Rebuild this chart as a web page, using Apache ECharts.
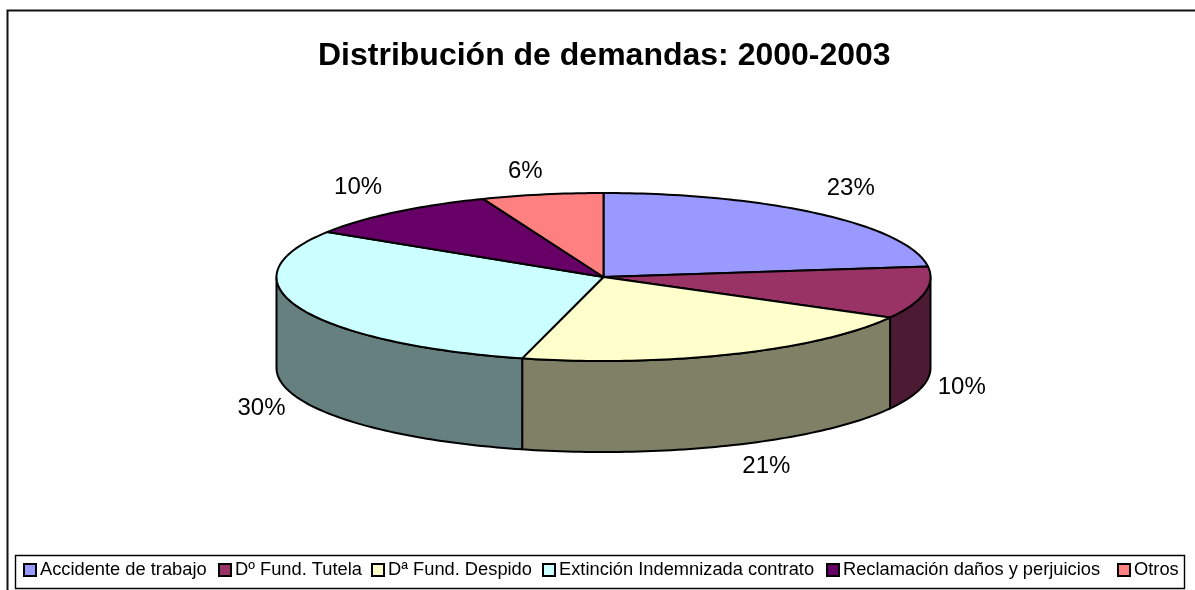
<!DOCTYPE html>
<html><head><meta charset="utf-8">
<style>html,body{margin:0;padding:0;background:#fff}#c{width:1195px;height:590px}</style>
<script src="https://cdn.jsdelivr.net/npm/echarts@6/dist/echarts.min.js"></script>
</head><body><div id="c"></div>
<script>
const categories = ['Accidente de trabajo','Dº Fund. Tutela','Dª Fund. Despido','Extinción Indemnizada contrato','Reclamación daños y perjuicios','Otros'];
const values = [23,10,21,30,10,6];
const topColors = ['#9999FF','#993366','#FFFFCC','#CCFFFF','#660066','#FF8080'];
const wallColors = ['#4D4D80','#4D1A33','#808066','#668080','#330033','#804040'];
const labelOffsets = [[31,-26],[37,4],[33,21],[-38,9],[-37,-25],[-17,-23]];
const legendLefts = [23,218,371,542,826,1117];
const titleText = 'Distribución de demandas: 2000-2003';

const CX=603.5, CY=277, RX=327, RY=84, DEPTH=91;
const total = values.reduce((a,b)=>a+b,0);
const pt=(t,dy)=>[CX+RX*Math.sin(t), CY-RY*Math.cos(t)+(dy||0)];
const arc=(a,b,dy)=>{const n=Math.max(2,Math.ceil(Math.abs(b-a)/0.02));const o=[];for(let i=0;i<=n;i++)o.push(pt(a+(b-a)*i/n,dy));return o;};
const lineStyle={stroke:'#000',lineWidth:2,lineJoin:'round'};

function renderSlice(idx){
  return function(params,api){
    const before=api.value(0), val=api.value(1);
    const a=before/total*2*Math.PI, b=(before+val)/total*2*Math.PI;
    const kids=[];
    const wa=Math.max(a,Math.PI/2), wb=Math.min(b,3*Math.PI/2);
    if(wb>wa){
      const front=arc(wa,wb,0), back=arc(wb,wa,DEPTH);
      kids.push({type:'polygon',shape:{points:front.concat(back)},style:Object.assign({fill:wallColors[idx]},lineStyle)});
    }
    kids.push({type:'polygon',shape:{points:[[CX,CY]].concat(arc(a,b,0))},style:Object.assign({fill:topColors[idx]},lineStyle)});
    const m=(a+b)/2, lower=Math.cos(m)<0;
    const p=pt(m,lower?DEPTH:0), off=labelOffsets[idx];
    kids.push({type:'text',style:{x:p[0]+off[0],y:p[1]+off[1],text:val+'%',fill:'#000',fontFamily:'Liberation Sans',fontSize:24,align:'center',verticalAlign:'middle'}});
    return {type:'group',children:kids};
  };
}
let cum=0;
const series=categories.map((name,i)=>{
  const s={type:'custom',name,coordinateSystem:'none',silent:true,animation:false,clip:false,
    itemStyle:{color:topColors[i]},z:3,
    data:[[cum,values[i]]],renderItem:renderSlice(i)};
  cum+=values[i];return s;
});
const legends=categories.map((name,i)=>({
  data:[name],left:legendLefts[i],top:561,padding:0,itemGap:0,itemWidth:12,itemHeight:12,icon:'rect',
  itemStyle:{borderColor:'#000',borderWidth:2},
  textStyle:{fontFamily:'Liberation Sans',fontSize:18.3,color:'#000',padding:[0,0,0,-1]},selectedMode:false
}));
const chart=echarts.init(document.getElementById('c'),null,{renderer:'canvas'});
chart.setOption({
  animation:false,backgroundColor:'#fff',
  title:{text:titleText,left:318,top:40,textStyle:{fontFamily:'Liberation Sans',fontSize:32,fontWeight:'bold',color:'#000'},padding:0,itemGap:0},
  legend:legends,
  graphic:[
    {type:'rect',z:-1,silent:true,shape:{x:7.5,y:10.5,width:1230,height:620},style:{fill:'#fff',stroke:'#111',lineWidth:2}},
    {type:'rect',z:0,silent:true,shape:{x:15.5,y:555.5,width:1169,height:33},style:{fill:'#fff',stroke:'#000',lineWidth:1.4}}
  ],
  series
});
</script></body></html>
